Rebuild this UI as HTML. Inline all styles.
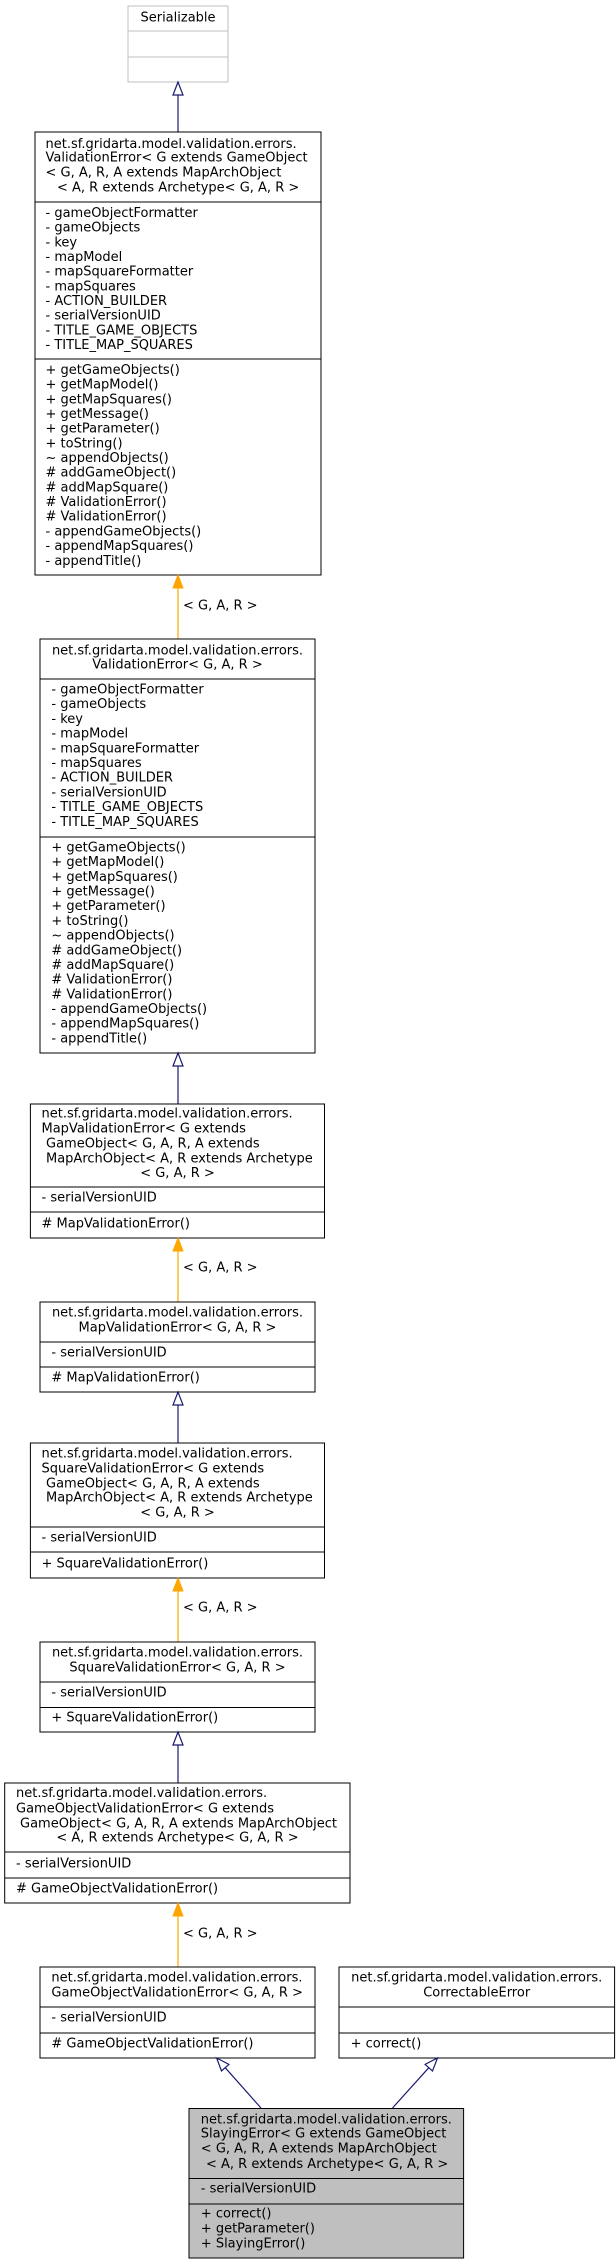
<!DOCTYPE html>
<html><head><meta charset="utf-8"><style>
html,body{margin:0;padding:0;background:#fff;}
svg{display:block;}
text{font-family:"DejaVu Sans","Liberation Sans",sans-serif;font-size:13px;fill:#000;dominant-baseline:central;}
.c{text-anchor:middle;}
rect{fill:#fff;stroke:#000;stroke-width:1;}
.d{stroke:#000;stroke-width:1;}
.b{stroke:#191970;stroke-width:1.2;fill:none;}
.bh{stroke:#191970;stroke-width:1.2;fill:#fff;}
.o{stroke:#ffa500;stroke-width:1.2;fill:none;}
.oh{stroke:#ffa500;fill:#ffa500;}
</style></head><body>
<svg width="616" height="2264" viewBox="0 0 616 2264" xmlns="http://www.w3.org/2000/svg">
<rect x="128" y="6" width="100" height="76" style="stroke:#bfbfbf"/>
<line x1="128" y1="31" x2="228" y2="31" style="stroke:#bfbfbf"/>
<line x1="128" y1="57" x2="228" y2="57" style="stroke:#bfbfbf"/>
<text class="c" x="178" y="18">Serializable</text>
<line class="b" x1="178" y1="95" x2="178" y2="132"/>
<polygon class="bh" points="178,82 173,95 183,95"/>

<rect x="35" y="132" width="286" height="443"/>
<line class="d" x1="35" y1="202" x2="321" y2="202"/>
<line class="d" x1="35" y1="359" x2="321" y2="359"/>
<text x="45.5" y="144.3">net.sf.gridarta.model.validation.errors.</text>
<text x="45.5" y="158.1">ValidationError&lt; G extends GameObject</text>
<text x="45.5" y="173.1">&lt; G, A, R, A extends MapArchObject</text>
<text x="57" y="188.1">&lt; A, R extends Archetype&lt; G, A, R &gt;</text>
<text x="45.5" y="213.4">- gameObjectFormatter</text>
<text x="45.5" y="228.1">- gameObjects</text>
<text x="45.5" y="242.8">- key</text>
<text x="45.5" y="257.5">- mapModel</text>
<text x="45.5" y="272.1">- mapSquareFormatter</text>
<text x="45.5" y="286.8">- mapSquares</text>
<text x="45.5" y="301.5">- ACTION_BUILDER</text>
<text x="45.5" y="316.2">- serialVersionUID</text>
<text x="45.5" y="330.8">- TITLE_GAME_OBJECTS</text>
<text x="45.5" y="345.5">- TITLE_MAP_SQUARES</text>
<text x="45.5" y="370.4">+ getGameObjects()</text>
<text x="45.5" y="385.1">+ getMapModel()</text>
<text x="45.5" y="399.8">+ getMapSquares()</text>
<text x="45.5" y="414.4">+ getMessage()</text>
<text x="45.5" y="429.1">+ getParameter()</text>
<text x="45.5" y="443.8">+ toString()</text>
<text x="45.5" y="458.5">~ appendObjects()</text>
<text x="45.5" y="473.2"># addGameObject()</text>
<text x="45.5" y="487.8"># addMapSquare()</text>
<text x="45.5" y="502.5"># ValidationError()</text>
<text x="45.5" y="517.2"># ValidationError()</text>
<text x="45.5" y="531.9">- appendGameObjects()</text>
<text x="45.5" y="546.6">- appendMapSquares()</text>
<text x="45.5" y="561.3">- appendTitle()</text>
<line class="o" x1="178" y1="588" x2="178" y2="639"/>
<polygon class="oh" points="178,575 173,588 183,588"/>
<text x="183" y="606">&lt; G, A, R &gt;</text>

<rect x="40" y="639" width="275" height="414"/>
<line class="d" x1="40" y1="679" x2="315" y2="679"/>
<line class="d" x1="40" y1="837" x2="315" y2="837"/>
<text class="c" x="177.5" y="651">net.sf.gridarta.model.validation.errors.</text>
<text class="c" x="177.5" y="665">ValidationError&lt; G, A, R &gt;</text>
<text x="51.4" y="690">- gameObjectFormatter</text>
<text x="51.4" y="704.7">- gameObjects</text>
<text x="51.4" y="719.4">- key</text>
<text x="51.4" y="734.1">- mapModel</text>
<text x="51.4" y="748.8">- mapSquareFormatter</text>
<text x="51.4" y="763.5">- mapSquares</text>
<text x="51.4" y="778.2">- ACTION_BUILDER</text>
<text x="51.4" y="792.9">- serialVersionUID</text>
<text x="51.4" y="807.6">- TITLE_GAME_OBJECTS</text>
<text x="51.4" y="822.3">- TITLE_MAP_SQUARES</text>
<text x="51.4" y="848">+ getGameObjects()</text>
<text x="51.4" y="862.7">+ getMapModel()</text>
<text x="51.4" y="877.4">+ getMapSquares()</text>
<text x="51.4" y="892">+ getMessage()</text>
<text x="51.4" y="906.7">+ getParameter()</text>
<text x="51.4" y="921.4">+ toString()</text>
<text x="51.4" y="936.1">~ appendObjects()</text>
<text x="51.4" y="950.8"># addGameObject()</text>
<text x="51.4" y="965.4"># addMapSquare()</text>
<text x="51.4" y="980.1"># ValidationError()</text>
<text x="51.4" y="994.8"># ValidationError()</text>
<text x="51.4" y="1009.5">- appendGameObjects()</text>
<text x="51.4" y="1024.2">- appendMapSquares()</text>
<text x="51.4" y="1038.8">- appendTitle()</text>
<line class="b" x1="178" y1="1066" x2="178" y2="1104"/>
<polygon class="bh" points="178,1053 173,1066 183,1066"/>

<rect x="30.4" y="1104" width="294.1" height="134"/>
<line class="d" x1="30.4" y1="1187" x2="324.5" y2="1187"/>
<line class="d" x1="30.4" y1="1212" x2="324.5" y2="1212"/>
<text x="41.5" y="1114">net.sf.gridarta.model.validation.errors.</text>
<text x="41.5" y="1129">MapValidationError&lt; G extends</text>
<text x="46" y="1144">GameObject&lt; G, A, R, A extends</text>
<text x="46" y="1159">MapArchObject&lt; A, R extends Archetype</text>
<text class="c" x="177.5" y="1173.6">&lt; G, A, R &gt;</text>
<text x="41.5" y="1198">- serialVersionUID</text>
<text x="41.5" y="1224"># MapValidationError()</text>
<line class="o" x1="178" y1="1251" x2="178" y2="1302"/>
<polygon class="oh" points="178,1238 173,1251 183,1251"/>
<text x="183" y="1268">&lt; G, A, R &gt;</text>

<rect x="40" y="1302" width="275" height="90"/>
<line class="d" x1="40" y1="1342" x2="315" y2="1342"/>
<line class="d" x1="40" y1="1367" x2="315" y2="1367"/>
<text class="c" x="177.5" y="1313">net.sf.gridarta.model.validation.errors.</text>
<text class="c" x="177.5" y="1328">MapValidationError&lt; G, A, R &gt;</text>
<text x="51.4" y="1353">- serialVersionUID</text>
<text x="51.4" y="1378"># MapValidationError()</text>
<line class="b" x1="178" y1="1405" x2="178" y2="1443"/>
<polygon class="bh" points="178,1392 173,1405 183,1405"/>

<rect x="30.4" y="1443" width="294.1" height="135"/>
<line class="d" x1="30.4" y1="1527" x2="324.5" y2="1527"/>
<line class="d" x1="30.4" y1="1552" x2="324.5" y2="1552"/>
<text x="41.5" y="1454">net.sf.gridarta.model.validation.errors.</text>
<text x="41.5" y="1469">SquareValidationError&lt; G extends</text>
<text x="46" y="1484">GameObject&lt; G, A, R, A extends</text>
<text x="46" y="1498">MapArchObject&lt; A, R extends Archetype</text>
<text class="c" x="177.5" y="1513">&lt; G, A, R &gt;</text>
<text x="41.5" y="1538">- serialVersionUID</text>
<text x="41.5" y="1564">+ SquareValidationError()</text>
<line class="o" x1="178" y1="1591" x2="178" y2="1642"/>
<polygon class="oh" points="178,1578 173,1591 183,1591"/>
<text x="183" y="1608">&lt; G, A, R &gt;</text>

<rect x="40" y="1642" width="275" height="90"/>
<line class="d" x1="40" y1="1682" x2="315" y2="1682"/>
<line class="d" x1="40" y1="1707.5" x2="315" y2="1707.5"/>
<text class="c" x="177.5" y="1653">net.sf.gridarta.model.validation.errors.</text>
<text class="c" x="177.5" y="1668">SquareValidationError&lt; G, A, R &gt;</text>
<text x="51.4" y="1693">- serialVersionUID</text>
<text x="51.4" y="1718">+ SquareValidationError()</text>
<line class="b" x1="178" y1="1745" x2="178" y2="1783"/>
<polygon class="bh" points="178,1732 173,1745 183,1745"/>

<rect x="4.7" y="1783" width="345.3" height="120"/>
<line class="d" x1="4.7" y1="1852" x2="350" y2="1852"/>
<line class="d" x1="4.7" y1="1878" x2="350" y2="1878"/>
<text x="16" y="1793.6">net.sf.gridarta.model.validation.errors.</text>
<text x="16" y="1809">GameObjectValidationError&lt; G extends</text>
<text x="20" y="1824">GameObject&lt; G, A, R, A extends MapArchObject</text>
<text class="c" x="177.5" y="1838">&lt; A, R extends Archetype&lt; G, A, R &gt;</text>
<text x="16" y="1864">- serialVersionUID</text>
<text x="16" y="1889"># GameObjectValidationError()</text>
<line class="o" x1="178" y1="1916" x2="178" y2="1967"/>
<polygon class="oh" points="178,1903 173,1916 183,1916"/>
<text x="183" y="1934">&lt; G, A, R &gt;</text>

<rect x="40" y="1967" width="275" height="91"/>
<line class="d" x1="40" y1="2007" x2="315" y2="2007"/>
<line class="d" x1="40" y1="2033" x2="315" y2="2033"/>
<text x="51.4" y="1978">net.sf.gridarta.model.validation.errors.</text>
<text x="51.4" y="1993">GameObjectValidationError&lt; G, A, R &gt;</text>
<text x="51.4" y="2018">- serialVersionUID</text>
<text x="51.4" y="2044"># GameObjectValidationError()</text>

<rect x="339" y="1967" width="275.6" height="91"/>
<line class="d" x1="339" y1="2007" x2="614.6" y2="2007"/>
<line class="d" x1="339" y1="2033" x2="614.6" y2="2033"/>
<text class="c" x="476.7" y="1978">net.sf.gridarta.model.validation.errors.</text>
<text class="c" x="476.7" y="1993">CorrectableError</text>
<text x="350.6" y="2044">+ correct()</text>

<rect x="189" y="2108.5" width="274.6" height="149.5" style="fill:#bfbfbf"/>
<line class="d" x1="189" y1="2178.5" x2="463.6" y2="2178.5"/>
<line class="d" x1="189" y1="2204" x2="463.6" y2="2204"/>
<text x="200.8" y="2120">net.sf.gridarta.model.validation.errors.</text>
<text x="200.8" y="2134">SlayingError&lt; G extends GameObject</text>
<text x="200.8" y="2149">&lt; G, A, R, A extends MapArchObject</text>
<text x="206" y="2164.5">&lt; A, R extends Archetype&lt; G, A, R &gt;</text>
<text x="200.8" y="2189">- serialVersionUID</text>
<text x="200.8" y="2214">+ correct()</text>
<text x="200.8" y="2229">+ getParameter()</text>
<text x="200.8" y="2244">+ SlayingError()</text>

<line class="b" x1="261" y1="2108" x2="225.2" y2="2067.7"/>
<polygon class="bh" points="216.6,2058 228.9,2064.4 221.5,2071"/>
<line class="b" x1="392.5" y1="2108" x2="428.8" y2="2067.7"/>
<polygon class="bh" points="437.5,2058 432.5,2071 425.1,2064.4"/>
</svg>
</body></html>
